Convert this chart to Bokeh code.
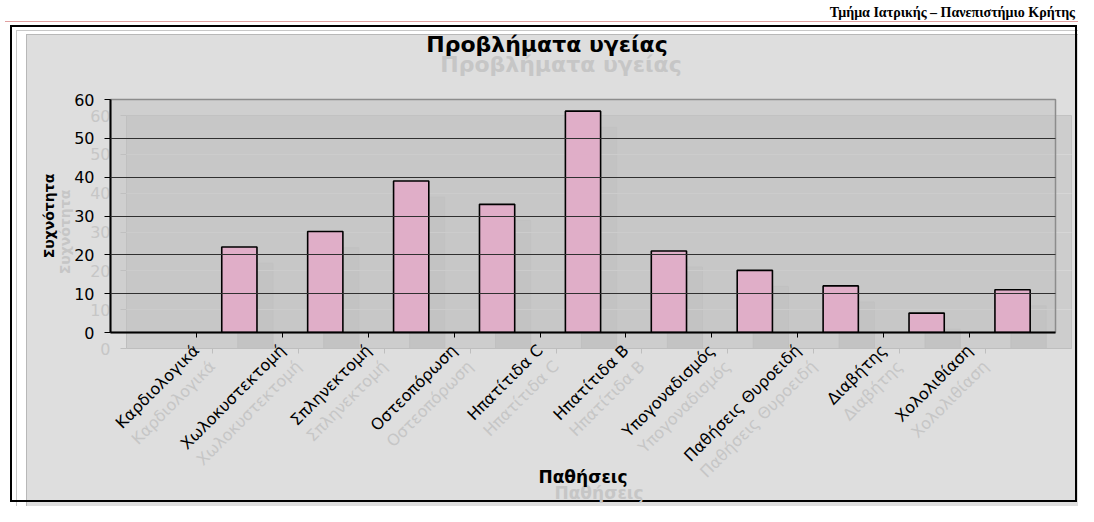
from math import pi
from bokeh.plotting import figure
from bokeh.models import FactorRange, Range1d, FixedTicker, ColumnDataSource, Column, Div
from bokeh.transform import dodge
from bokeh.embed import file_html
from bokeh.resources import INLINE

# ---------------- data ----------------
categories = ["Καρδιολογικά", "Χωλοκυστεκτομή", "Σπληνεκτομή", "Οστεοπόρωση",
              "Ηπατίτιδα C", "Ηπατίτιδα B", "Υπογοναδισμός", "Παθήσεις Θυροειδή",
              "Διαβήτης", "Χολολιθίαση"]
frequencies = [22, 26, 39, 33, 57, 21, 16, 12, 5, 11]
y_ticks = [0, 10, 20, 30, 40, 50, 60]
title_text = "Προβλήματα υγείας"
x_title = "Παθήσεις"
y_title = "Συχνότητα"
header_text = "Τμήμα Ιατρικής – Πανεπιστήμιο Κρήτης"

# ---------------- layout ----------------
W, H = 1078, 506
FL, FT = 110, 89
FRAME_W, FRAME_H = 945, 233
GHOST = 16
FONT = "DejaVu Sans"


def make_chart(ghost):
    src = ColumnDataSource(dict(cat=categories, val=frequencies))
    xr = FactorRange(factors=categories, range_padding=0.5, range_padding_units="absolute")
    yr = Range1d(y_ticks[0], y_ticks[-1])
    p = figure(x_range=xr, y_range=yr, width=W, height=H, output_backend="svg",
               toolbar_location=None, min_border_left=FL, min_border_top=FT,
               min_border_right=W - FL - FRAME_W, min_border_bottom=H - FT - FRAME_H)
    p.title.visible = False
    p.border_fill_alpha = 0
    if ghost:
        txt, axc, grid_c = "#c6c6c6", "#bebebe", "#d6d6d6"
        p.background_fill_color = "#cdcdcd"
        p.outline_line_color = "#c2c2c2"
        bar_kw = dict(fill_color="#c3c3c3", line_color="#c0c0c0", line_width=1)
    else:
        txt, axc, grid_c = "black", "black", "#303030"
        p.background_fill_color = "#c2c2c2"
        p.background_fill_alpha = 0.53
        p.outline_line_color = "#8c8c8c"
        p.outline_line_width = 1.5
        bar_kw = dict(fill_color="#e0aec8", line_color="black", line_width=1.6)

    p.vbar(x=dodge("cat", 0.5, range=p.x_range), top="val", width=0.41, source=src, **bar_kw)

    # y axis
    ya = p.yaxis[0]
    ya.ticker = FixedTicker(ticks=y_ticks)
    ya.axis_line_color = axc
    ya.axis_line_width = 2 if not ghost else 1
    ya.major_tick_out = 6
    ya.major_tick_in = 0
    ya.minor_tick_out = 0
    ya.major_tick_line_color = axc
    ya.major_label_standoff = 10
    ya.major_label_text_font = FONT
    ya.major_label_text_font_size = "16px"
    ya.major_label_text_color = txt
    ya.axis_label = y_title
    ya.axis_label_standoff = 14
    ya.axis_label_text_font = FONT
    ya.axis_label_text_font_style = "bold"
    ya.axis_label_text_font_size = "14px"
    ya.axis_label_text_color = txt

    # x axis
    xa = p.xaxis[0]
    xa.major_label_orientation = pi / 4
    xa.axis_line_color = axc
    xa.axis_line_width = 2 if not ghost else 1
    xa.major_tick_out = 5
    xa.major_tick_in = 0
    xa.major_tick_line_color = axc
    xa.major_label_standoff = 10
    xa.major_label_text_font = FONT
    xa.major_label_text_font_size = "16px"
    xa.major_label_text_color = txt
    xa.axis_label = x_title
    xa.axis_label_standoff = -8
    xa.axis_label_text_font = FONT
    xa.axis_label_text_font_style = "bold"
    xa.axis_label_text_font_size = "17px"
    xa.axis_label_text_color = txt

    p.xgrid.visible = False
    p.ygrid.ticker = FixedTicker(ticks=y_ticks)
    p.ygrid.grid_line_color = grid_c
    p.ygrid.grid_line_width = 1
    p.ygrid.level = "annotation"
    return p


# ---------------- page decoration (document frame) and chart title, plain HTML ----------------
def box(left, top, width, height, style):
    return (f'<div style="position:absolute;left:{left}px;top:{top}px;width:{width}px;'
            f'height:{height}px;box-sizing:border-box;{style}"></div>')


def title_div(center_x, top, color):
    return (f'<div style="position:absolute;left:0px;top:{top}px;width:{2 * center_x}px;'
            f'text-align:center;font-family:\'{FONT}\';font-weight:bold;font-size:22px;'
            f'line-height:26px;color:{color};white-space:nowrap;">{title_text}</div>')


deco_html = (
    f'<div style="position:relative;width:{W}px;height:{H}px;background:#dedede;overflow:hidden;">'
    + box(0, 0, W, 30, "background:white;")
    + box(0, 0, 21, H, "background:white;")
    + box(1073, 30, 5, H - 30, "background:#c8c8c8;")
    + box(21, 504, W - 21, 2, "background:#bdbdbd;")
    + box(11, 25, W + 20, H + 20, "border:1px solid #c8c8c8;")
    + box(21, 29, W + 20, H + 20, "border:1px solid #b8b8b8;")
    + box(5, 20, 1067, 477, "border:2px solid black;")
    + box(-10, 16, W + 30, 488, "border:1.5px solid #e0a0a0;")
    + '<div style="position:absolute;right:8px;top:0px;font-family:\'Liberation Serif\';'
      'font-weight:bold;font-size:14px;line-height:16px;color:black;white-space:nowrap;">'
    + header_text + '</div>'
    + title_div(556, 47, "#c6c6c6")
    + title_div(542, 27, "black")
    + '</div>'
)
deco = Div(text=deco_html, width=W, height=H)

ghost_chart = make_chart(True)
main_chart = make_chart(False)
ghost_chart.margin = (-(H - GHOST), -GHOST, -GHOST, GHOST)
main_chart.margin = (-H, 0, 0, 0)

layout = Column(children=[deco, ghost_chart, main_chart], spacing=0, width=W, height=H,
                styles={"overflow": "hidden"})

open("out.html", "w").write(file_html(layout, INLINE))
